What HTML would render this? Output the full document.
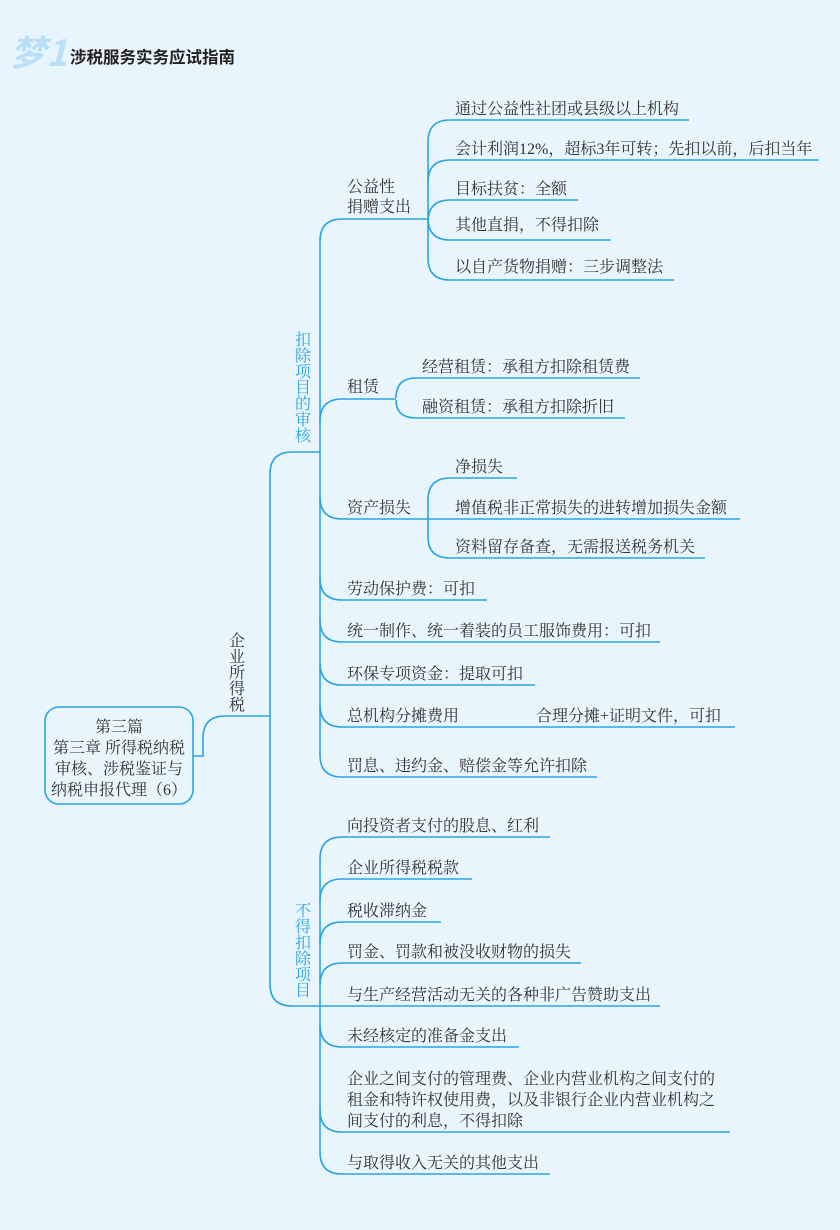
<!DOCTYPE html>
<html><head><meta charset="utf-8"><style>
html,body{margin:0;padding:0;background:#e9f5fd;}
svg{display:block}
text{font-family:"Liberation Serif","Noto Serif CJK SC","Noto Sans CJK SC",serif;font-size:16px;fill:#333;}
</style></head><body>
<svg width="840" height="1230" viewBox="0 0 840 1230" xmlns="http://www.w3.org/2000/svg">
<rect width="840" height="1230" fill="#e9f5fd"/>
<text x="10" y="66" style="font-family:'Noto Sans CJK SC',sans-serif;font-size:36px;font-weight:bold;font-style:italic;fill:#b9e0f6">梦1</text>
<text x="70" y="63" style="font-family:'Noto Sans CJK SC',sans-serif;font-size:16.5px;font-weight:bold;fill:#222">涉税服务实务应试指南</text>

<g fill="none" stroke="#2aa5e2" stroke-width="1.6">
<rect x="45" y="707" width="148" height="97" rx="14"/>
<path d="M193,756 L203,756 L203,738 Q203,716 225,716 L270,716"/>
<path d="M320,452 L292,452 Q270,452 270,474 L270,984 Q270,1006 292,1006 L660,1006"/>
<path d="M320,241 L320,755"/>
<path d="M342,219 Q320,219 320,241"/><path d="M342,219 L428,219"/>
<path d="M320,421 Q320,399 342,399 L396,399"/>
<path d="M320,497 Q320,519 342,519 L428,519"/>
<path d="M320,578 Q320,600 342,600 L487,600"/>
<path d="M320,620 Q320,642 342,642 L660,642"/>
<path d="M320,663 Q320,685 342,685 L535,685"/>
<path d="M320,705 Q320,727 342,727 L735,727"/>
<path d="M320,755 Q320,777 342,777 L597,777"/>
<path d="M428,142 L428,258"/>
<path d="M428,142 Q428,120 450,120 L689,120"/>
<path d="M428,182 Q428,160 450,160 L819,160"/>
<path d="M428,222 Q428,200 450,200 L578,200"/>
<path d="M428,218 Q428,240 450,240 L611,240"/>
<path d="M428,258 Q428,280 450,280 L674,280"/>
<path d="M396,398 Q396,378 416,378 L640,378"/>
<path d="M396,400 Q396,418 416,418 L625,418"/>
<path d="M428,500 L428,537"/>
<path d="M428,500 Q428,478 450,478 L517,478"/>
<path d="M428,519 L740,519"/>
<path d="M428,537 Q428,558 450,558 L705,558"/>
<path d="M320,859 L320,1152"/>
<path d="M320,859 Q320,837 342,837 L550,837"/>
<path d="M320,901 Q320,879 342,879 L472,879"/>
<path d="M320,944 Q320,922 342,922 L441,922"/>
<path d="M320,985 Q320,963 342,963 L581,963"/>
<path d="M320,1025 Q320,1047 342,1047 L519,1047"/>
<path d="M320,1110 Q320,1132 342,1132 L730,1132"/>
<path d="M320,1152 Q320,1174 342,1174 L550,1174"/>
</g>

<text x="119" y="732" text-anchor="middle">第三篇</text>
<text x="119" y="753" text-anchor="middle">第三章  所得税纳税</text>
<text x="119" y="774" text-anchor="middle">审核、涉税鉴证与</text>
<text x="119" y="795" text-anchor="middle">纳税申报代理（6）</text>

<g text-anchor="middle">
<text x="237" y="646">企</text><text x="237" y="662">业</text><text x="237" y="678">所</text><text x="237" y="694">得</text><text x="237" y="710">税</text>
</g>
<g text-anchor="middle">
<text x="303" y="345" style="fill:#2aa5e2">扣</text><text x="303" y="361" style="fill:#2aa5e2">除</text><text x="303" y="377" style="fill:#2aa5e2">项</text><text x="303" y="393" style="fill:#2aa5e2">目</text><text x="303" y="409" style="fill:#2aa5e2">的</text><text x="303" y="425" style="fill:#2aa5e2">审</text><text x="303" y="441" style="fill:#2aa5e2">核</text>
<text x="303" y="916" style="fill:#2aa5e2">不</text><text x="303" y="932" style="fill:#2aa5e2">得</text><text x="303" y="948" style="fill:#2aa5e2">扣</text><text x="303" y="964" style="fill:#2aa5e2">除</text><text x="303" y="980" style="fill:#2aa5e2">项</text><text x="303" y="996" style="fill:#2aa5e2">目</text>
</g>

<text x="347" y="192">公益性</text>
<text x="347" y="212">捐赠支出</text>
<text x="455" y="114">通过公益性社团或县级以上机构</text>
<text x="455" y="154">会计利润12%，超标3年可转；先扣以前，后扣当年</text>
<text x="455" y="194">目标扶贫：全额</text>
<text x="455" y="230">其他直捐，不得扣除</text>
<text x="455" y="272">以自产货物捐赠：三步调整法</text>

<text x="347" y="392">租赁</text>
<text x="422" y="372">经营租赁：承租方扣除租赁费</text>
<text x="422" y="412">融资租赁：承租方扣除折旧</text>

<text x="347" y="513">资产损失</text>
<text x="455" y="472">净损失</text>
<text x="455" y="513">增值税非正常损失的进转增加损失金额</text>
<text x="455" y="552">资料留存备查，无需报送税务机关</text>

<text x="347" y="594">劳动保护费：可扣</text>
<text x="347" y="636">统一制作、统一着装的员工服饰费用：可扣</text>
<text x="347" y="679">环保专项资金：提取可扣</text>
<text x="347" y="721">总机构分摊费用</text>
<text x="536" y="721">合理分摊+证明文件，可扣</text>
<text x="347" y="771">罚息、违约金、赔偿金等允许扣除</text>

<text x="347" y="831">向投资者支付的股息、红利</text>
<text x="347" y="873">企业所得税税款</text>
<text x="347" y="916">税收滞纳金</text>
<text x="347" y="957">罚金、罚款和被没收财物的损失</text>
<text x="347" y="1000">与生产经营活动无关的各种非广告赞助支出</text>
<text x="347" y="1041">未经核定的准备金支出</text>
<text x="347" y="1084">企业之间支付的管理费、企业内营业机构之间支付的</text>
<text x="347" y="1105">租金和特许权使用费，以及非银行企业内营业机构之</text>
<text x="347" y="1126">间支付的利息，不得扣除</text>
<text x="347" y="1168">与取得收入无关的其他支出</text>
</svg>
</body></html>
